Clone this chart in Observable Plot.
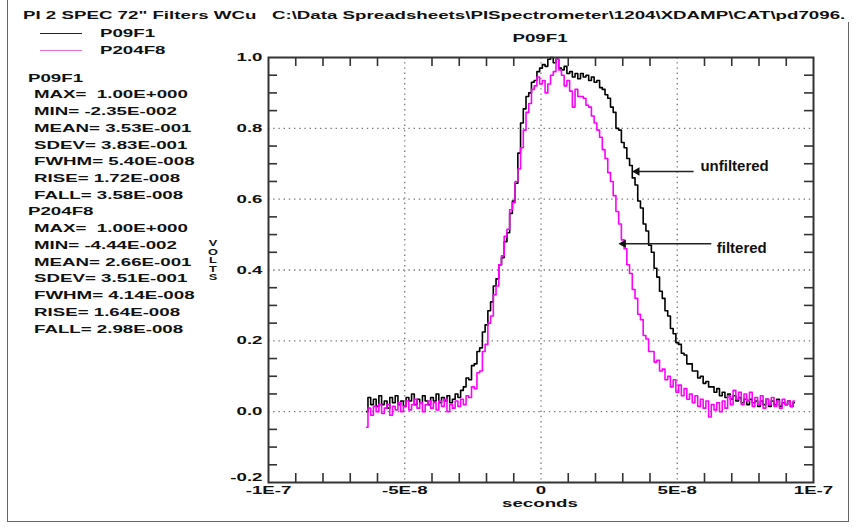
<!DOCTYPE html>
<html><head><meta charset="utf-8">
<script src="https://cdn.jsdelivr.net/npm/d3@7"></script>
<script src="https://cdn.jsdelivr.net/npm/@observablehq/plot@0.6"></script>
<style>
body{margin:0;background:#fff;}
#wrap{position:relative;width:864px;height:527px;overflow:hidden;background:#fff;}
#wrap svg{position:absolute;left:0;top:0;}
.t{position:absolute;white-space:pre;font-family:"Liberation Sans",Arial,sans-serif;font-weight:bold;color:#111;line-height:1;}
.bl{position:absolute;background:#555;}
</style></head><body><div id="wrap"></div>
<script>
// ---- data (time in ns, voltage normalised) ----
const times = [-64,-63,-62,-61,-60,-59,-58,-57,-56,-55,-54,-53,-52,-51,-50,-49,-48,-47,-46,-45,-44,-43,-42,-41,-40,-39,-38,-37,-36,-35,-34,-33,-32,-31,-30,
-29,-28,-27,-26,-25,-24,-23,-22,-21,-20,-19,-18,-17,-16,-15,-14,-13,-12,-11,-10,-9,-8,-7,-6,-5,-4,-3,-2,-1,
0,1,2,3,4,5,6,7,8,9,10,11,12,13,14,15,16,17,18,19,20,21,22,23,24,25,26,27,28,29,30,
31,32,33,34,35,36,37,38,39,40,41,42,43,44,45,46,47,48,49,50,51,52,53,54,55,56,57,58,59,60,61,62,63,64,65,66,67,68,69,70,71,72,73,74,75,76,77,78,79,80,81,82,83,84,85,86,87,88,89,90,91,92,93];
const p09f1 = [0.00,0.04,0.02,0.035,0.015,0.045,0.02,0.03,0.01,0.04,0.025,0.045,0.02,0.03,0.015,0.04,0.03,0.05,0.02,0.035,0.025,0.045,0.03,0.02,0.04,0.03,0.05,0.025,0.04,0.03,0.045,0.025,0.035,0.05,0.04,
0.06,0.07,0.095,0.09,0.13,0.135,0.17,0.18,0.225,0.245,0.285,0.31,0.355,0.375,0.415,0.435,0.48,0.505,0.56,0.595,0.645,0.73,0.815,0.855,0.89,0.9,0.93,0.935,0.96,
0.97,0.98,0.975,0.995,1.0,0.985,0.995,0.97,0.965,0.975,0.955,0.96,0.945,0.955,0.94,0.955,0.945,0.95,0.935,0.945,0.93,0.935,0.915,0.91,0.895,0.885,0.86,0.845,0.8,0.795,0.76,
0.745,0.715,0.695,0.66,0.64,0.595,0.575,0.53,0.51,0.47,0.45,0.405,0.38,0.34,0.32,0.285,0.27,0.235,0.22,0.195,0.19,0.165,0.16,0.135,0.135,0.115,0.115,0.095,0.1,0.08,0.085,0.07,0.07,0.055,0.065,0.045,0.055,0.04,0.05,0.035,0.045,0.03,0.04,0.025,0.035,0.02,0.035,0.025,0.03,0.015,0.03,0.02,0.035,0.015,0.03,0.02,0.035,0.015,0.025,0.02,0.03,0.015,0.025];
const p204f8 = [-0.044,0.01,-0.01,0.015,0.0,0.02,-0.005,0.01,0.02,-0.01,0.015,0.005,0.025,0.0,0.015,0.03,0.005,0.02,0.035,0.01,0.025,0.0,0.02,0.03,0.01,0.025,0.005,0.03,0.015,0.035,0.0,0.02,0.01,0.03,0.015,
0.035,0.02,0.045,0.04,0.07,0.065,0.11,0.115,0.17,0.19,0.25,0.27,0.33,0.355,0.415,0.44,0.495,0.515,0.57,0.59,0.65,0.685,0.745,0.795,0.845,0.87,0.91,0.92,0.945,
0.925,0.935,0.9,0.925,0.95,0.96,0.995,0.965,0.95,0.92,0.935,0.905,0.86,0.91,0.89,0.89,0.885,0.865,0.86,0.835,0.815,0.795,0.775,0.74,0.715,0.675,0.65,0.61,0.565,0.53,0.485,
0.46,0.415,0.39,0.345,0.32,0.275,0.26,0.215,0.205,0.17,0.17,0.14,0.145,0.115,0.12,0.09,0.1,0.07,0.09,0.055,0.075,0.045,0.065,0.035,0.05,0.025,0.045,0.015,0.035,0.01,0.03,-0.015,0.02,0.005,0.025,0.0,0.03,0.01,0.045,0.02,0.06,0.035,0.055,0.02,0.05,0.03,0.055,0.015,0.04,0.02,0.045,0.01,0.035,0.02,0.04,0.015,0.03,0.01,0.035,0.02,0.03,0.015,0.03];

const seriesNames = ["P09F1","P204F8"];
const seriesColors = ["#000000","#ff00ff"];

const statNames = ["MAX","MIN","MEAN","SDEV","FWHM","RISE","FALL"];
const p09f1Stats = [" 1.00E+000","-2.35E-002","3.53E-001","3.83E-001","5.40E-008","1.72E-008","3.58E-008"];
const p204f8Stats = [" 1.00E+000","-4.44E-002","2.66E-001","3.51E-001","4.14E-008","1.64E-008","2.98E-008"];

const titleText = "PI 2 SPEC 72\" Filters WCu   C:\\Data Spreadsheets\\PISpectrometer\\1204\\XDAMP\\CAT\\pd7096.";
const plotTitle = "P09F1";
const yLabel = "VOLTS";
const xLabel = "seconds";

const xDomain = [-100, 100];
const yDomain = [-0.2, 1.0];
const xTickValues = [-100, -50, 0, 50, 100];
const xTickLabels = ["-1E-7", "-5E-8", "0", "5E-8", "1E-7"];
const yTickValues = [-0.2, 0, 0.2, 0.4, 0.6, 0.8, 1.0];
const yTickLabels = ["-0.2", "0.0", "0.2", "0.4", "0.6", "0.8", "1.0"];
const xGrid = [-50, 0, 50];
const yGrid = [0, 0.2, 0.4, 0.6, 0.8];
const xMinor = [-90,-80,-70,-60,-40,-30,-20,-10,10,20,30,40,60,70,80,90];
const yMinor = [-0.15,-0.1,-0.05,0.05,0.1,0.15,0.25,0.3,0.35,0.45,0.5,0.55,0.65,0.7,0.75,0.85,0.9,0.95];

// annotations (data units)
const annLabels = ["unfiltered", "filtered"];
const annTextX = [58.5, 64.5];
const annTextY = [0.692, 0.463];
const annFromX = [56, 62.5];
const annToX = [34.5, 29.5];
const annY = [0.678, 0.474];

// ---- build ----
const rows0 = times.map((t, i) => ({t, v: p09f1[i]}));
const rows1 = times.map((t, i) => ({t, v: p204f8[i]}));
const anns = annLabels.map((label, i) => ({label, tx: annTextX[i], ty: annTextY[i], x1: annFromX[i], x2: annToX[i], y: annY[i]}));

const W = 864, H = 527, mL = 268, mR = 51, mT = 57, mB = 45;
const pw = W - mL - mR, ph = H - mT - mB;
const tickLen = 9;
const SX = 1.7;
const yFmt = d => yTickLabels[yTickValues.indexOf(d)];

const chart = Plot.plot({
  width: W, height: H,
  marginLeft: mL, marginRight: mR, marginTop: mT, marginBottom: mB,
  x: {domain: xDomain, axis: null},
  y: {domain: yDomain, axis: null},
  style: {fontFamily: "'Liberation Sans', Arial, sans-serif", fontWeight: "bold", fontSize: "11px", color: "#111", background: "transparent"},
  marks: [
    Plot.ruleX(xGrid, {x: d => d, stroke: "#777", strokeWidth: 1.3, strokeDasharray: "1.4,3.8"}),
    Plot.ruleY(yGrid, {y: d => d, stroke: "#777", strokeWidth: 1.3, strokeDasharray: "1.4,3.8"}),
    Plot.line(rows0, {x: "t", y: "v", stroke: seriesColors[0], strokeWidth: 1.6, curve: "step"}),
    Plot.line(rows1, {x: "t", y: "v", stroke: seriesColors[1], strokeWidth: 1.6, curve: "step"}),
    Plot.tickX(xMinor, {x: d => d, insetTop: ph - tickLen, stroke: "#333", strokeWidth: 1.6}),
    Plot.tickX(xMinor, {x: d => d, insetBottom: ph - tickLen, stroke: "#333", strokeWidth: 1.6}),
    Plot.tickY(yMinor, {y: d => d, insetRight: pw - tickLen, stroke: "#333", strokeWidth: 1.6}),
    Plot.tickY(yMinor, {y: d => d, insetLeft: pw - tickLen, stroke: "#333", strokeWidth: 1.6}),
    Plot.frame({stroke: "#333", strokeWidth: 2}),
    Plot.axisX(xTickValues, {tickSize: 0, tickPadding: 4, fill: "#111", tickFormat: d => xTickLabels[xTickValues.indexOf(d)]}),
    Plot.axisY(yTickValues.slice(1), {tickSize: 0, tickPadding: 6, fill: "#111", tickFormat: yFmt}),
    Plot.axisY(yTickValues.slice(0, 1), {tickSize: 0, tickPadding: 6, dy: -5, fill: "#111", tickFormat: yFmt}),
    Plot.link(anns, {x1: "x1", y1: "y", x2: "x2", y2: "y", stroke: "#222", strokeWidth: 1.4}),
    Plot.dot(anns, {x: "x2", y: "y", symbol: "triangle", rotate: -90, r: 3.2, fill: "#111", stroke: "none", dx: 2}),
    Plot.text(anns, {x: "tx", y: "ty", text: "label", textAnchor: "start", fontSize: 15, fill: "#111"})
  ]
});

// stretch axis tick labels horizontally to match the wide legacy font
chart.querySelectorAll('g[aria-label$="tick label"] text').forEach(t => {
  const tr = t.getAttribute("transform");
  if (tr) t.setAttribute("transform", tr + ` scale(${SX},1)`);
});

const wrap = document.getElementById("wrap");
wrap.appendChild(chart);

function put(text, x, y, {size = 11, anchor = "start", scale = SX, color = "#111"} = {}) {
  const d = document.createElement("div");
  d.className = "t";
  d.textContent = text;
  d.style.fontSize = size + "px";
  d.style.left = x + "px";
  d.style.top = (y - 0.49 * size) + "px";
  d.style.color = color;
  if (anchor === "middle") { d.style.transformOrigin = "0 0"; d.style.transform = `scaleX(${scale}) translateX(-50%)`; }
  else { d.style.transformOrigin = "left"; d.style.transform = `scaleX(${scale})`; }
  wrap.appendChild(d);
  return d;
}
function line(x, y, w, h, color) {
  const d = document.createElement("div");
  d.className = "bl";
  Object.assign(d.style, {left: x + "px", top: y + "px", width: w + "px", height: h + "px", background: color});
  wrap.appendChild(d);
}

// page border
line(7, 0, 1, 521, "#666");
line(7, 521, 842, 1, "#666");
line(848, 22, 1, 500, "#666");

// header
put(titleText, 23, 15);
// legend
line(40, 33, 42, 1, "#222");
put(seriesNames[0], 100, 33);
line(40, 50, 42, 1, "#e070e0");
put(seriesNames[1], 100, 50);
// chart title
put(plotTitle, 540, 38, {anchor: "middle"});

// stats
const y0 = 78, dy = 16.73;
const statBlocks = [[seriesNames[0], p09f1Stats], [seriesNames[1], p204f8Stats]];
let k = 0;
statBlocks.forEach(([name, vals]) => {
  put(name, 28, y0 + dy * k++);
  statNames.forEach((s, i) => {
    put(`${s}= ${vals[i]}`, 34, y0 + dy * k++);
  });
});

// vertical VOLTS label (stacked letters)
const vl = document.createElement("div");
vl.className = "t";
Object.assign(vl.style, {left: "213px", top: "239px", fontSize: "8.5px", lineHeight: "8.6px", textAlign: "center", width: "10px", transform: "translateX(-50%) scaleX(1.5)", whiteSpace: "normal"});
vl.innerHTML = yLabel.split("").join("<br>");
wrap.appendChild(vl);
// x label
put(xLabel, 540, 503, {anchor: "middle"});
</script>
</body></html>
